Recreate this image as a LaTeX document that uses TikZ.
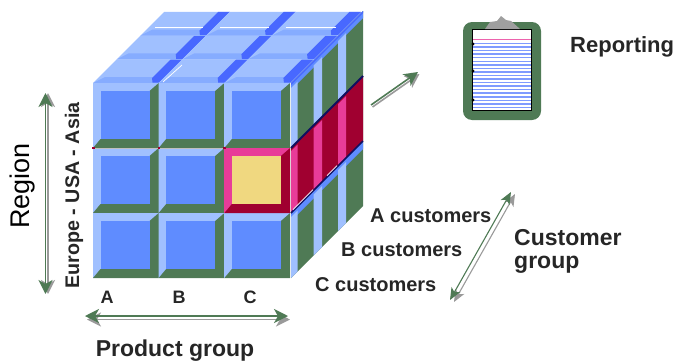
\documentclass[tikz,border=0pt]{standalone}
\usepackage{fontspec}
\setmainfont{Liberation Sans}
\usetikzlibrary{arrows.meta}
\definecolor{lightb}{HTML}{A0C0FF}
\definecolor{midb}{HTML}{5F8CFF}
\definecolor{bandb}{HTML}{86ACFF}
\definecolor{strongb}{HTML}{4868FF}
\definecolor{leaf}{HTML}{4F7A55}
\definecolor{wine}{HTML}{A00030}
\definecolor{hotpink}{HTML}{E83C98}
\definecolor{sand}{HTML}{F0D880}
\definecolor{navy}{HTML}{101060}
\definecolor{shade}{HTML}{9A9A9A}
\definecolor{stripe}{HTML}{7F9BFF}
\tikzset{
  x=1pt,y=-1pt,
  lbl/.style={font=\fontsize{20}{24}\selectfont\bfseries,text=black!85,inner sep=0pt},
  greenarrow/.style={draw=leaf,line width=1.5pt,{Stealth[length=14pt,width=14pt,inset=4pt]}-{Stealth[length=14pt,width=14pt,inset=4pt]}},
  greyarrow/.style={draw=shade,line width=1.6pt,{Stealth[length=14pt,width=14pt,inset=4pt]}-{Stealth[length=14pt,width=14pt,inset=4pt]}},
  greenthin/.style={draw=leaf,line width=1.1pt,{Stealth[length=12pt,width=10pt,inset=3pt]}-{Stealth[length=12pt,width=10pt,inset=3pt]}},
  greythin/.style={draw=shade,line width=1.1pt,{Stealth[length=12pt,width=10pt,inset=3pt]}-{Stealth[length=12pt,width=10pt,inset=3pt]}},
  greenone/.style={draw=leaf,line width=1.6pt,-{Stealth[length=14pt,width=14pt,inset=4pt]}},
  greyone/.style={draw=shade,line width=1.6pt,-{Stealth[length=14pt,width=14pt,inset=4pt]}},
}
\newcommand{\frontcell}[5]{% x, y, topleft, bottomright, inner
  \fill[#3] (#1,#2) rectangle ++(65.7,65);
  \fill[#4] (#1+65.7,#2) -- ++(0,65) -- ++(-65.7,0) -- ++(7.5,-9) -- ++(49,0) -- ++(0,-48) -- cycle;
  \fill[#5] (#1+7.5,#2+8) rectangle (#1+56.5,#2+56);
}
\begin{document}
\begin{tikzpicture}
\useasboundingbox (0,0) rectangle (678,362);
% top face
\begin{scope}[shift={(93,83)},xslant=1]
\foreach \i in {0,1,2}{\foreach \j in {0,1,2}{
  \pgfmathsetmacro{\xa}{65.7*\i}
  \pgfmathsetmacro{\ya}{-23.7*\j}
  \begin{scope}[shift={(\xa,\ya)}]
  \fill[lightb] (0,0) rectangle (65.7,-23.7);
  \fill[bandb] (0,0) -- (65.7,0) -- (56,-6) -- (6,-6) -- cycle;
  \fill[strongb] (65.7,-.5) -- (65.7,-23.7) -- (54,-23.7) -- (54,-5) -- (59,-.5) -- cycle;
  \end{scope}
}}
\end{scope}
\draw[white,line width=.7pt] (155,27) -- (203,27) (220,27) -- (269,27) (286,27) -- (336,27);
\draw[white,line width=.7pt] (163,82) -- (182,65);
% right face
\begin{scope}[shift={(291,83)},yslant=1]
\fill[leaf] (0,0) rectangle (72,195);
\fill[midb] (0,0) rectangle (72,7);
\fill[strongb] (0,0) rectangle (72,2);
\fill[wine] (0,65) rectangle (72,130);
\fill[midb] (0,130) rectangle (72,138);
\foreach \s/\w in {0/6.5,22.5/8.5,47/8}{
  \fill[lightb] (\s,5) rectangle (\s+\w,64);
  \fill[hotpink] (\s,68) rectangle (\s+\w,129);
  \fill[lightb] (\s,134) rectangle (\s+\w,195);
}
\draw[navy,line width=1.8pt] (0,65) -- (72,65);
\draw[navy,line width=1.5pt] (0,130) -- (72,130);
\draw[white,line width=.7pt] (2,128.5) -- (22,128.5) (36,128.5) -- (46,128.5);
\end{scope}
% front face
\foreach \i in {0,1,2}{\foreach \j in {0,1,2}{
  \pgfmathsetmacro{\xa}{93+65.7*\i}
  \pgfmathsetmacro{\ya}{83+65*\j}
  \frontcell{\xa}{\ya}{lightb}{leaf}{midb}
}}
\frontcell{224.4}{148}{hotpink}{wine}{sand}
\draw[black!25,line width=.6pt] (93,148) -- (224.4,148);
\foreach \xa in {93,158.7,224.4}{\fill[wine] (\xa-1,147.3) rectangle (\xa+1.5,148.8);}
% labels
\node[lbl,rotate=90,text=black] (region) at (23,186) {\fontsize{27}{30}\selectfont\mdseries Region};
\node[lbl,rotate=90] (geo) at (74,195.5) {\fontsize{19.7}{24}\selectfont Europe - USA - Asia};
\node[lbl] (a) at (107,297) {\fontsize{18}{20}\selectfont A};
\node[lbl] (b) at (179,297) {\fontsize{18}{20}\selectfont B};
\node[lbl] (c) at (250,297) {\fontsize{18}{20}\selectfont C};
\node[lbl] (prod) at (175,351) {\fontsize{23}{26}\selectfont Product group};
\node[lbl,anchor=west] (ac) at (370,216) {A customers};
\node[lbl,anchor=west] (bc) at (341,250) {B customers};
\node[lbl,anchor=west] (cc) at (315,285) {C customers};
\node[lbl,anchor=west] (cust1) at (514,238) {\fontsize{23}{26}\selectfont Customer};
\node[lbl,anchor=west] (cust2) at (514,265) {\fontsize{23}{26}\selectfont group};
\node[lbl,anchor=west] (rep) at (570,47) {\fontsize{22}{26}\selectfont Reporting};
% arrows
\coordinate (r1) at (45.5,93); \coordinate (r2) at (45.5,294);
\coordinate (p1) at (85,316); \coordinate (p2) at (288,316);
\coordinate (g1) at (511,192); \coordinate (g2) at (450,300);
\coordinate (t1) at (371,105); \coordinate (t2) at (418,72);
\draw[greyarrow] ([xshift=2.5pt]r1) -- ([xshift=2.5pt]r2);
\draw[greenarrow] (r1) -- (r2);
\draw[greyarrow] ([xshift=2pt,yshift=-3.5pt]p1) -- ([xshift=2pt,yshift=-3.5pt]p2);
\draw[greenarrow] (p1) -- (p2);
\draw[greythin] ([xshift=4pt,yshift=-2pt]g1) -- ([xshift=4pt,yshift=-2pt]g2);
\draw[greenthin] (g1) -- (g2);
\draw[greyone] ([xshift=1.5pt,yshift=-2pt]t1) -- ([xshift=1.5pt,yshift=-2pt]t2);
\draw[greenone] (t1) -- (t2);
% clipboard
\fill[leaf,rounded corners=9pt] (463,22) rectangle (541,120);
\fill[white] (472,29) rectangle (531,110);
\foreach \k in {0,...,18}{
  \pgfmathsetmacro{\yy}{43.5+\k*3.55}
  \draw[stripe,line width=1.5pt] (473,\yy) -- (531,\yy);
}
\draw[hotpink!80,line width=1pt] (473,39) -- (531,39);
\draw[black,line width=1pt] (472,29) rectangle (531,110);
\fill[gray!75] (485,29) -- (490,22) -- (497,21) -- (501,16) -- (506,20) -- (511,21) -- (520,29) -- cycle;
\foreach \yy in {44,71,100}{\fill[black] (473,\yy) circle (1.7);}
\end{tikzpicture}
\end{document}
